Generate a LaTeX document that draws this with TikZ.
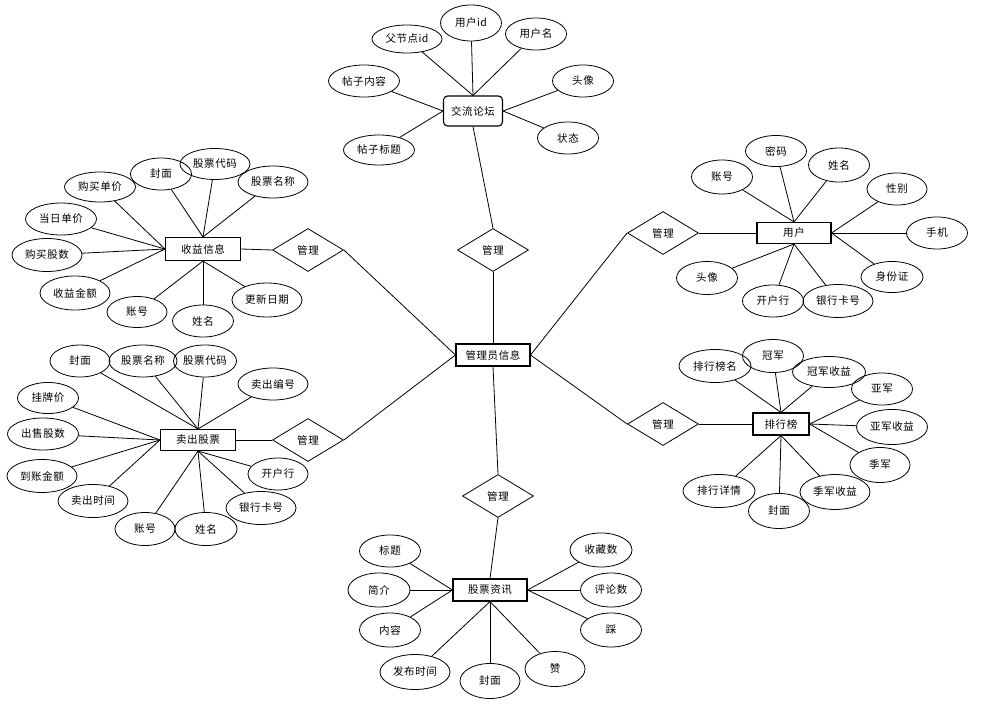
\documentclass[tikz,border=0pt]{standalone}
\usepackage{fontspec}
\newfontfamily\cjk[LetterSpace=5]{Noto Sans CJK SC}
\usepackage{tikz}
\usetikzlibrary{shapes.geometric}

\tikzset{
  attr/.style={ellipse, draw, line width=0.8pt, inner sep=0pt, minimum width=61pt, minimum height=32pt},
  attrw/.style={attr, minimum width=71pt},
  entity/.style={rectangle, draw, line width=1.1pt, inner sep=0pt, minimum width=74pt, minimum height=22pt},
  rel/.style={diamond, draw, line width=0.8pt, inner sep=0pt, minimum width=71pt, minimum height=43pt},
}

\begin{document}
\begin{tikzpicture}[x=1pt, y=-1pt, line width=0.8pt, font=\cjk\fontsize{10.5}{12}\selectfont]
\useasboundingbox[fill=white] (0,0) rectangle (1005,709);
% centre and its relations
\node[entity] (admin) at (493,355) {管理员信息};
\node[rel] (relForum) at (493,250) {管理};
\node[rel] (relProfit) at (308,250) {管理};
\node[rel] (relSell) at (308,440) {管理};
\node[rel] (relNews) at (498,496) {管理};
\node[rel] (relUser) at (663,233) {管理};
\node[rel] (relRank) at (663,424) {管理};

% forum
\node[entity, rounded corners=4pt, minimum width=59pt, minimum height=30pt] (forum) at (473,111) {交流论坛};
\node[attr, minimum width=70pt, minimum height=28pt] (forumPid) at (407,39) {父节点id};
\node[attr, minimum height=36pt] (forumUid) at (471,23) {用户id};
\node[attr] (forumUname) at (536,34) {用户名};
\node[attrw] (forumText) at (364,81) {帖子内容};
\node[attr] (forumAvatar) at (583,81) {头像};
\node[attrw, minimum height=30pt] (forumTitle) at (379,150) {帖子标题};
\node[attr] (forumState) at (568,138) {状态};
\draw (forum.north) -- (forumPid); \draw (forum.north) -- (forumUid); \draw (forum.north) -- (forumUname);
\draw (forum.west) -- (forumText); \draw (forum.west) -- (forumTitle);
\draw (forum.east) -- (forumAvatar); \draw (forum.east) -- (forumState);

% profit
\node[entity, minimum width=75pt, minimum height=23pt] (profit) at (203,249) {收益信息};
\node[attrw, minimum height=30pt] (profitBuyPrice) at (100,187) {购买单价};
\node[attr] (profitCover) at (161,174) {封面};
\node[attrw, minimum width=70pt, minimum height=31pt] (profitCode) at (215,164) {股票代码};
\node[attrw, minimum width=70pt] (profitName) at (273,182) {股票名称};
\node[attrw] (profitDayPrice) at (61,219) {当日单价};
\node[attrw, minimum width=70pt, minimum height=33pt] (profitShares) at (47,255) {购买股数};
\node[attrw, minimum width=70pt, minimum height=34pt] (profitAmount) at (75,293) {收益金额};
\node[attr, minimum width=60pt, minimum height=31pt] (profitAcc) at (137,312) {账号};
\node[attr] (profitHolder) at (203,321) {姓名};
\node[attrw, minimum width=70pt, minimum height=34pt] (profitDate) at (267,300) {更新日期};
\draw (profit.north) -- (profitCover); \draw (profit.north) -- (profitCode); \draw (profit.north) -- (profitName);
\draw (profit.west) -- (profitBuyPrice); \draw (profit.west) -- (profitDayPrice);
\draw (profit.west) -- (profitShares); \draw (profit.west) -- (profitAmount);
\draw (profit.south) -- (profitAcc); \draw (profit.south) -- (profitHolder); \draw (profit.south) -- (profitDate);
\draw (profit.east) -- (relProfit.west);
\draw (relProfit.east) -- (admin.west);

% sell
\node[entity, minimum width=75pt, minimum height=21pt] (sell) at (198,440) {卖出股票};
\node[attr, minimum width=60pt] (sellCover) at (80,361) {封面};
\node[attr, minimum width=68pt] (sellName) at (143,361) {股票名称};
\node[attr, minimum width=63pt] (sellCode) at (205,361) {股票代码};
\node[attrw, minimum width=70pt] (sellNo) at (273,384) {卖出编号};
\node[attr, minimum height=31pt] (sellPrice) at (48,398) {挂牌价};
\node[attrw] (sellShares) at (43,434) {出售股数};
\node[attrw, minimum width=70pt, minimum height=33pt] (sellAmount) at (42,476) {到账金额};
\node[attrw, minimum width=70pt, minimum height=33pt] (sellTime) at (93,501) {卖出时间};
\node[attr, minimum width=60pt, minimum height=33pt] (sellAcc) at (145,529) {账号};
\node[attr, minimum width=62pt, minimum height=33pt] (sellHolder) at (206,529) {姓名};
\node[attr, minimum width=60pt] (sellBank) at (278,474) {开户行};
\node[attrw, minimum width=70pt, minimum height=33pt] (sellCard) at (261,508) {银行卡号};
\draw (sell.north) -- (sellCover); \draw (sell.north) -- (sellName);
\draw (sell.north) -- (sellCode); \draw (sell.north) -- (sellNo);
\draw (sell.west) -- (sellPrice); \draw (sell.west) -- (sellShares);
\draw (sell.west) -- (sellAmount); \draw (sell.west) -- (sellTime);
\draw (sell.south) -- (sellAcc); \draw (sell.south) -- (sellHolder);
\draw (sell.south) -- (sellBank); \draw (sell.south) -- (sellCard);
\draw (sell.east) -- (relSell.west);
\draw (relSell.east) -- (admin.west);

% user
\node[entity, minimum height=21pt] (user) at (794,233) {用户};
\node[attr, minimum height=34pt] (userAcc) at (722,177) {账号};
\node[attr, minimum height=31pt] (userPwd) at (776,151) {密码};
\node[attr, minimum height=34pt] (userName) at (839,165) {姓名};
\node[attr, minimum width=60pt] (userSex) at (897,189) {性别};
\node[attr] (userPhone) at (937,233) {手机};
\node[attr, minimum height=33pt] (userAvatar) at (707,278) {头像};
\node[attr] (userBank) at (773,301) {开户行};
\node[attrw, minimum width=70pt, minimum height=33pt] (userCard) at (838,301) {银行卡号};
\node[attr, minimum width=62pt, minimum height=31pt] (userId) at (892,277) {身份证};
\draw (user.north) -- (userAcc); \draw (user.north) -- (userPwd); \draw (user.north) -- (userName);
\draw (user.east) -- (userSex); \draw (user.east) -- (userPhone); \draw (user.east) -- (userId);
\draw (user.south) -- (userAvatar); \draw (user.south) -- (userBank); \draw (user.south) -- (userCard);
\draw (user.west) -- (relUser.east);
\draw (admin.east) -- (relUser.west);

% rank
\node[entity, minimum width=56pt] (rank) at (781,424) {排行榜};
\node[attrw, minimum width=72pt, minimum height=33pt] (rankName) at (715,366) {排行榜名};
\node[attr, minimum height=33pt] (rankFirst) at (773,356) {冠军};
\node[attrw, minimum width=73pt, minimum height=31pt] (rankFirstGain) at (829,372) {冠军收益};
\node[attr] (rankSecond) at (882,389) {亚军};
\node[attrw, minimum height=35pt] (rankSecondGain) at (892,427) {亚军收益};
\node[attr, minimum width=60pt, minimum height=35pt] (rankThird) at (880,465) {季军};
\node[attrw, minimum width=70pt, minimum height=35pt] (rankThirdGain) at (835,492) {季军收益};
\node[attr, minimum height=35pt] (rankCover) at (779,511) {封面};
\node[attrw, minimum width=72pt, minimum height=33pt] (rankDetail) at (719,491) {排行详情};
\draw (rank.north) -- (rankName); \draw (rank.north) -- (rankFirst); \draw (rank.north) -- (rankFirstGain);
\draw (rank.east) -- (rankSecond); \draw (rank.east) -- (rankSecondGain); \draw (rank.east) -- (rankThird);
\draw (rank.south) -- (rankThirdGain); \draw (rank.south) -- (rankCover); \draw (rank.south) -- (rankDetail);
\draw (rank.west) -- (relRank.east);
\draw (admin.east) -- (relRank.west);

% news
\node[entity] (news) at (490,590) {股票资讯};
\node[attr] (newsTitle) at (390,551) {标题};
\node[attr, minimum width=62pt, minimum height=34pt] (newsBrief) at (379,590) {简介};
\node[attr, minimum height=34pt] (newsBody) at (390,630) {内容};
\node[attrw, minimum width=70pt, minimum height=35pt] (newsTime) at (415,672) {发布时间};
\node[attr, minimum width=60pt, minimum height=35pt] (newsCover) at (490,681) {封面};
\node[attr, minimum width=60pt, minimum height=35pt] (newsLike) at (555,669) {赞};
\node[attr, minimum width=62pt, minimum height=34pt] (newsFav) at (601,550) {收藏数};
\node[attr, minimum height=34pt] (newsCmt) at (611,590) {评论数};
\node[attr, minimum height=34pt] (newsDislike) at (611,630) {踩};
\draw (news.west) -- (newsTitle); \draw (news.west) -- (newsBrief); \draw (news.west) -- (newsBody);
\draw (news.east) -- (newsFav); \draw (news.east) -- (newsCmt); \draw (news.east) -- (newsDislike);
\draw (news.south) -- (newsTime); \draw (news.south) -- (newsCover); \draw (news.south) -- (newsLike);

% admin links up and down
\draw (forum.south) -- (relForum.north);
\draw (relForum.south) -- (admin.north);
\draw (admin.south) -- (relNews.north);
\draw (relNews.south) -- (news.north);
\end{tikzpicture}
\end{document}
